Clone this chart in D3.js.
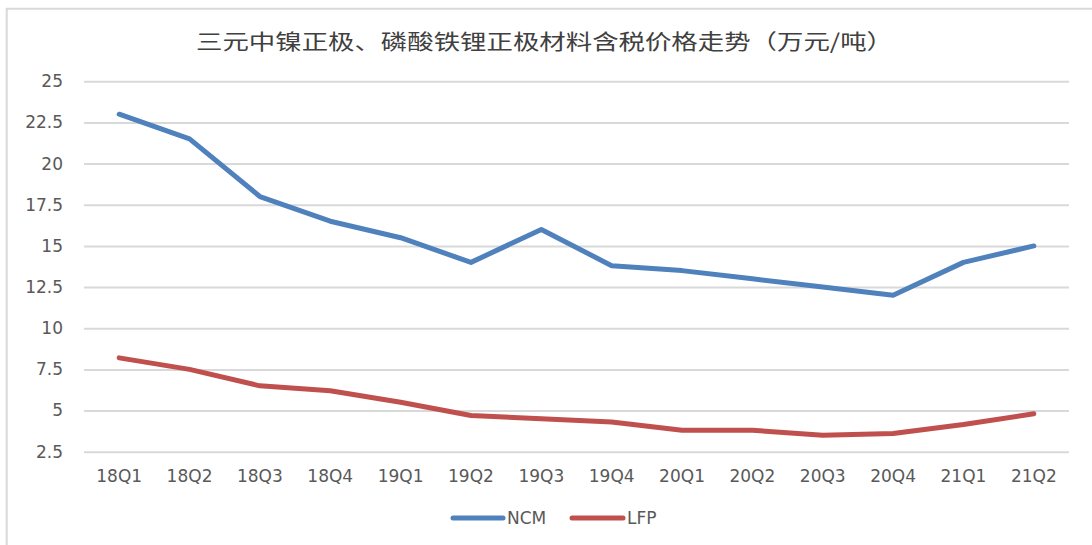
<!DOCTYPE html>
<html>
<head>
<meta charset="utf-8">
<script src="https://cdn.jsdelivr.net/npm/d3@7"></script>
<style>
  html, body { margin: 0; padding: 0; background: #fff; }
  svg { display: block; }
</style>
</head>
<body>
<div id="chart"></div>
<script>
const categories = ["18Q1","18Q2","18Q3","18Q4","19Q1","19Q2","19Q3","19Q4","20Q1","20Q2","20Q3","20Q4","21Q1","21Q2"];
const ncmValues = [23, 21.5, 18, 16.5, 15.5, 14, 16, 13.8, 13.5, 13, 12.5, 12, 14, 15];
const lfpValues = [8.2, 7.5, 6.5, 6.2, 5.5, 4.7, 4.5, 4.3, 3.8, 3.8, 3.5, 3.6, 4.15, 4.8];
const yTicks = [2.5, 5, 7.5, 10, 12.5, 15, 17.5, 20, 22.5, 25];
const seriesNames = ["NCM", "LFP"];
const seriesColors = ["#4f81bd", "#c0504d"];
const titleText = "三元中镍正极、磷酸铁锂正极材料含税价格走势（万元/吨）";

const W = 1092, H = 545;
const plot = { left: 84, right: 1069, top: 81.3, bottom: 451.7 };

const svg = d3.select("#chart").append("svg")
  .attr("width", W).attr("height", H);

svg.append("rect").attr("width", W).attr("height", H).attr("fill", "#fff");

// outer frame (top and left edges visible)
svg.append("line").attr("x1", 6).attr("x2", W).attr("y1", 8.7).attr("y2", 8.7)
  .attr("stroke", "#d9d9d9").attr("stroke-width", 2);
svg.append("line").attr("x1", 6.7).attr("x2", 6.7).attr("y1", 8).attr("y2", H)
  .attr("stroke", "#d9d9d9").attr("stroke-width", 2);

// title
svg.append("text")
  .attr("x", 544.5).attr("y", 49)
  .attr("text-anchor", "middle")
  .attr("font-family", "'Noto Sans CJK SC', sans-serif")
  .attr("font-size", 21)
  .attr("fill", "#404040")
  .attr("textLength", 697)
  .attr("lengthAdjust", "spacingAndGlyphs")
  .text(titleText);

const x = d3.scaleBand().domain(categories).range([plot.left, plot.right]).padding(0);
const y = d3.scaleLinear().domain([2.5, 25]).range([plot.bottom, plot.top]);

// y axis with gridlines
const yAxis = svg.append("g")
  .attr("transform", `translate(${plot.left},0)`)
  .call(d3.axisLeft(y).tickValues(yTicks).tickFormat(d => String(d))
    .tickSizeInner(-(plot.right - plot.left)).tickSizeOuter(0).tickPadding(21));
yAxis.select(".domain").remove();
yAxis.selectAll(".tick line").attr("stroke", "#d9d9d9").attr("stroke-width", 2);
yAxis.selectAll(".tick text")
  .attr("font-family", "'DejaVu Sans', sans-serif")
  .attr("font-size", 17).attr("fill", "#595959");

// x axis
const xAxis = svg.append("g")
  .attr("transform", `translate(0,${plot.bottom})`)
  .call(d3.axisBottom(x).tickSize(0).tickPadding(18));
xAxis.select(".domain").remove();
xAxis.selectAll(".tick text")
  .attr("font-family", "'DejaVu Sans', sans-serif")
  .attr("font-size", 17).attr("fill", "#595959");

const line = d3.line()
  .x((d, i) => x(categories[i]) + x.bandwidth() / 2)
  .y(d => y(d));

[ncmValues, lfpValues].forEach((vals, k) => {
  svg.append("path")
    .datum(vals)
    .attr("d", line)
    .attr("fill", "none")
    .attr("stroke", seriesColors[k])
    .attr("stroke-width", 5)
    .attr("stroke-linejoin", "round")
    .attr("stroke-linecap", "round");
});

// legend
const legendItems = [{ x1: 453, x2: 503, tx: 507 }, { x1: 572, x2: 623, tx: 627 }];
const legendY = 518;
seriesNames.forEach((name, k) => {
  const it = legendItems[k];
  svg.append("line")
    .attr("x1", it.x1).attr("x2", it.x2)
    .attr("y1", legendY).attr("y2", legendY)
    .attr("stroke", seriesColors[k]).attr("stroke-width", 5)
    .attr("stroke-linecap", "round");
  svg.append("text")
    .attr("x", it.tx).attr("y", legendY).attr("dy", "0.35em")
    .attr("font-family", "'DejaVu Sans', sans-serif")
    .attr("font-size", 17).attr("fill", "#595959")
    .text(name);
});
</script>
</body>
</html>
